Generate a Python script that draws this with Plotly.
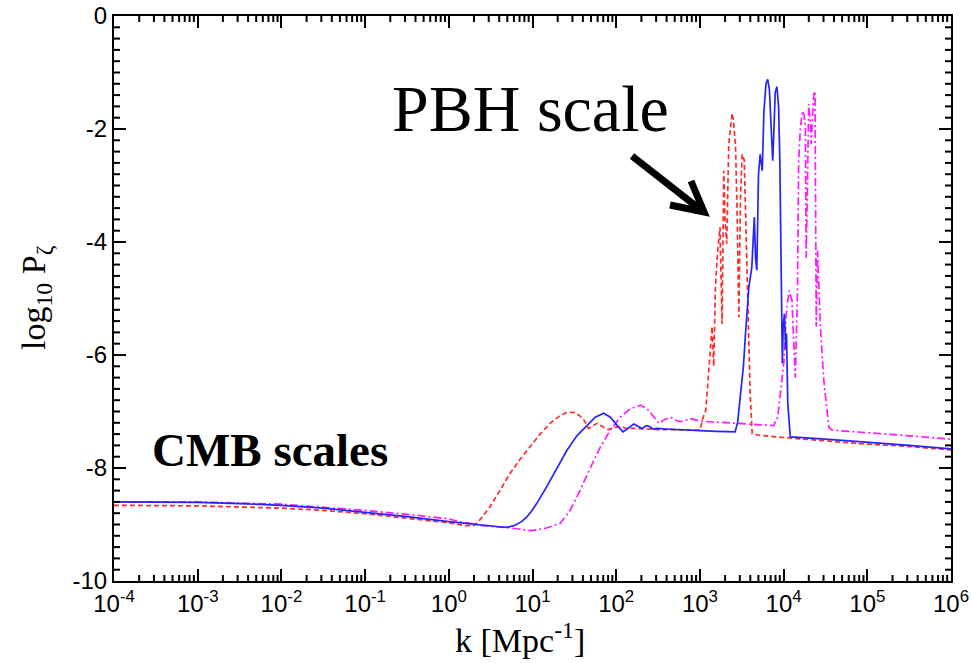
import numpy as np
import plotly.graph_objects as go

# ---- data: log10 k [Mpc^-1] and log10 P_zeta for the three models ----
blue_logk = [-4.0, -3.5, -3.0, -2.5, -2.0, -1.5, -1.0, -0.5, 0.0, 0.3, 0.6, 0.69, 0.78, 0.87,
             0.93, 0.99, 1.05, 1.17, 1.29, 1.41, 1.53, 1.65, 1.75, 1.85, 1.93, 1.99, 2.05,
             2.08, 2.14, 2.21, 2.26, 2.31, 2.36, 2.39, 2.44, 2.49, 2.6, 2.8, 3.0, 3.2, 3.42,
             3.45, 3.49, 3.52, 3.545, 3.585, 3.62, 3.65, 3.665, 3.68, 3.70, 3.72, 3.745, 3.765,
             3.79, 3.81, 3.83, 3.855, 3.87, 3.885, 3.90, 3.92, 3.94, 3.955, 3.975, 3.985,
             3.995, 4.01, 4.025, 4.035, 4.05, 4.08, 4.5, 5.0, 5.5, 6.0]
blue_logP = [-8.60, -8.60, -8.61, -8.63, -8.66, -8.71, -8.78, -8.86, -8.95, -9.00, -9.04, -9.05,
             -9.02, -8.95, -8.87, -8.76, -8.63, -8.33, -8.00, -7.69, -7.43, -7.25, -7.10, -7.03,
             -7.10, -7.21, -7.32, -7.36, -7.30, -7.22, -7.26, -7.30, -7.25, -7.26, -7.31, -7.30,
             -7.31, -7.33, -7.34, -7.35, -7.36, -7.20, -6.68, -6.20, -5.62, -4.80, -4.45, -3.56,
             -4.30, -4.50, -2.80, -2.45, -2.74, -1.68, -1.20, -1.12, -1.30, -2.20, -2.56, -2.00,
             -1.35, -1.25, -1.60, -2.56, -4.92, -6.15, -5.50, -5.27, -5.90, -5.62, -6.86, -7.45,
             -7.49, -7.54, -7.60, -7.66]

red_logk = [-4.0, -3.0, -2.0, -1.5, -1.0, -0.5, 0.0, 0.2, 0.3, 0.37, 0.49, 0.61, 0.73, 0.85,
            0.97, 1.09, 1.21, 1.33, 1.42, 1.50, 1.56, 1.61, 1.67, 1.72, 1.77, 1.84, 1.91, 1.98,
            2.05, 2.13, 2.21, 2.53, 2.97, 3.0, 3.04, 3.07, 3.11, 3.145, 3.165, 3.185, 3.21,
            3.24, 3.265, 3.285, 3.30, 3.32, 3.345, 3.37, 3.385, 3.40, 3.425, 3.445, 3.465,
            3.485, 3.505, 3.53, 3.55, 3.565, 3.585, 3.60, 3.625, 3.7, 4.0, 4.5, 4.92, 5.5, 6.0]
red_logP = [-8.66, -8.67, -8.71, -8.75, -8.81, -8.89, -8.97, -9.02, -9.02, -8.92, -8.69, -8.40,
            -8.10, -7.85, -7.63, -7.40, -7.21, -7.07, -7.01, -7.02, -7.07, -7.14, -7.30, -7.25,
            -7.21, -7.27, -7.32, -7.28, -7.27, -7.30, -7.30, -7.32, -7.34, -7.33, -7.10, -6.98,
            -6.20, -5.50, -6.20, -4.80, -4.20, -3.74, -5.45, -2.74, -3.60, -4.03, -2.27, -1.85,
            -1.72, -1.85, -2.27, -3.50, -5.33, -3.20, -2.45, -2.55, -3.80, -4.92, -5.80, -6.68,
            -7.39, -7.42, -7.46, -7.52, -7.57, -7.62, -7.68]

magenta_logk = [-4.0, -3.0, -2.0, -1.5, -1.0, -0.5, 0.0, 0.13, 0.4, 0.73, 0.99, 1.15, 1.33,
                1.45, 1.57, 1.69, 1.81, 1.93, 2.05, 2.17, 2.29, 2.37, 2.45, 2.51, 2.58, 2.65,
                2.72, 2.77, 2.85, 2.9, 3.0, 3.3, 3.565, 3.88, 3.93, 3.965, 4.005, 4.03, 4.065,
                4.1, 4.14, 4.165, 4.18, 4.2, 4.225, 4.245, 4.26, 4.27, 4.285, 4.30, 4.315, 4.33,
                4.345, 4.36, 4.375, 4.39, 4.405, 4.44, 4.48, 4.54, 4.58, 5.0, 5.5, 6.0]
magenta_logP = [-8.60, -8.60, -8.64, -8.69, -8.75, -8.82, -8.90, -8.95, -9.02, -9.06, -9.11,
                -9.07, -8.98, -8.75, -8.39, -8.00, -7.63, -7.33, -7.10, -6.95, -6.89, -6.95,
                -7.10, -7.21, -7.14, -7.10, -7.16, -7.18, -7.15, -7.13, -7.17, -7.20, -7.22,
                -7.25, -7.10, -6.68, -6.10, -5.30, -4.86, -5.04, -6.40, -4.92, -2.56, -2.00,
                -1.68, -1.75, -1.97, -4.28, -2.50, -1.56, -1.80, -2.27, -1.80, -1.39, -1.33,
                -5.50, -4.15, -5.50, -6.45, -7.28, -7.33, -7.37, -7.43, -7.49]

x_tick_exps = list(range(-4, 7))
y_ticks = [0, -2, -4, -6, -8, -10]
x_range = [-4, 6]
y_range = [-10, 0]

# ---- page geometry (pixels) ----
W, H = 971, 663
ML, MR, MT, MB = 114, 20, 16, 82
PW, PH = W - ML - MR, H - MT - MB


def px(x):
    return (x - ML) / PW


def py(y):
    return (H - MB - y) / PH


fig = go.Figure()

series = [
    (red_logk, red_logP, "#ff2a2a", "5px,3px"),
    (magenta_logk, magenta_logP, "#ff1aff", "8px,3px,2px,3px"),
    (blue_logk, blue_logP, "#2424ff", "solid"),
]
for lk, lp, color, dash in series:
    fig.add_trace(go.Scatter(
        x=np.power(10.0, lk), y=lp, mode="lines",
        line=dict(color=color, width=1.7, dash=dash),
        showlegend=False, hoverinfo="skip",
    ))

tick_font = dict(family="Liberation Sans", size=24, color="black")
common = dict(showgrid=False, zeroline=False, ticks="inside", tickcolor="black",
              tickwidth=2, ticklen=12, showline=True, linewidth=2,
              linecolor="black", mirror="allticks", tickfont=tick_font)

fig.update_layout(
    xaxis=dict(type="log", range=x_range, tickmode="array",
               tickvals=[10.0 ** e for e in x_tick_exps],
               ticktext=["10<sup>%d</sup>" % e for e in x_tick_exps], **common),
    yaxis=dict(range=y_range, tickmode="array", tickvals=y_ticks,
               ticktext=[str(v) for v in y_ticks], **common),
)

# minor ticks on all four sides (log digits on x, 0.2 steps on y)
minor_len = 6
minor_x_frac = [(np.log10(m) + e - x_range[0]) / (x_range[1] - x_range[0])
                for e in range(x_range[0], x_range[1]) for m in range(2, 10)]
minor_y_frac = [(v - y_range[0]) / (y_range[1] - y_range[0])
                for v in np.arange(y_range[0], y_range[1] + 1e-9, 0.2)
                if abs(v / 2 - round(v / 2)) > 1e-6]
dy = minor_len / PH
dx = minor_len / PW
shapes = []
for f in minor_x_frac:
    for y0, y1 in ((0, dy), (1, 1 - dy)):
        shapes.append(dict(type="line", xref="paper", yref="paper",
                           x0=f, x1=f, y0=y0, y1=y1,
                           line=dict(color="black", width=2)))
for f in minor_y_frac:
    for x0, x1 in ((0, dx), (1, 1 - dx)):
        shapes.append(dict(type="line", xref="paper", yref="paper",
                           x0=x0, x1=x1, y0=f, y1=f,
                           line=dict(color="black", width=2)))

# arrow pointing at the small-scale peaks
tail, tip = (632, 156), (704, 212)
wing1, wing2 = (670, 205), (691, 181)
arrow_path = "M {} {} L {} {} M {} {} L {} {} L {} {}".format(
    px(tail[0]), py(tail[1]), px(tip[0] - 3), py(tip[1] - 2),
    px(wing1[0]), py(wing1[1]), px(tip[0]), py(tip[1]), px(wing2[0]), py(wing2[1]))
shapes.append(dict(type="path", xref="paper", yref="paper", path=arrow_path,
                   line=dict(color="black", width=7)))

serif = "Liberation Serif"
annotations = [
    dict(x=px(520), y=py(638), text="k [Mpc<sup>-1</sup>]",
         font=dict(family=serif, size=34, color="black")),
    dict(x=px(36), y=py(298), text="log<sub>10</sub> P<sub>ζ</sub>", textangle=-90,
         font=dict(family=serif, size=34, color="black")),
    dict(x=px(390), y=py(108), text="PBH scale", xanchor="left",
         font=dict(family=serif, size=66, color="black")),
    dict(x=px(150), y=py(450), text="<b>CMB scales</b>", xanchor="left",
         font=dict(family=serif, size=47, color="black")),
]
for a in annotations:
    a.setdefault("xanchor", "center")
    a.update(xref="paper", yref="paper", yanchor="middle", showarrow=False)

fig.update_layout(
    width=W, height=H,
    margin=dict(l=ML, r=MR, t=MT, b=MB, autoexpand=False),
    paper_bgcolor="white", plot_bgcolor="white",
    annotations=annotations, shapes=shapes,
)

fig.write_html("out.html")
